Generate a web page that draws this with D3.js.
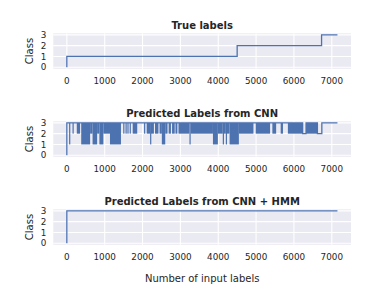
<!DOCTYPE html>
<html lang="en">
<head>
<meta charset="UTF-8" />
<title>Labels</title>
<style>
body { margin: 0; background: #fff; }
svg text { font-family: "DejaVu Sans", sans-serif; fill: #262626; }
</style>
</head>
<body>
<svg id="chart" width="390" height="293"></svg>
<script src="https://cdn.jsdelivr.net/npm/d3@7"></script>
<script>
// data
const xTicks = [0, 1000, 2000, 3000, 4000, 5000, 6000, 7000];
const yTicks = [0, 1, 2, 3];
const titles = ["True labels", "Predicted Labels from CNN", "Predicted Labels from CNN + HMM"];

// runs: [from, to, value]
const trueRuns = [[0, 0, 0], [0, 4500, 1], [4500, 6730, 2], [6730, 7150, 3]];
const hmmRuns = [[0, 0, 0], [0, 7150, 3]];

// runs: [from, to, low, high]; low < high means it flips fast between the two
const cnnRuns = [
  [0, 0, 0, 0], [0, 60, 3, 3], [60, 72, 1, 3], [72, 150, 3, 3], [150, 160, 2, 3],
  [160, 263, 3, 3], [263, 350, 2, 3], [350, 380, 3, 3], [380, 615, 1, 3],
  [615, 680, 2, 3], [680, 800, 1, 3], [800, 860, 2, 3], [860, 965, 1, 3],
  [965, 1140, 2, 3], [1140, 1430, 1, 3], [1430, 1490, 3, 3], [1490, 1510, 2, 3],
  [1510, 1550, 3, 3], [1550, 1570, 2, 3], [1570, 1600, 3, 3], [1600, 1620, 2, 3],
  [1620, 1660, 3, 3], [1660, 1680, 2, 3], [1680, 1740, 3, 3], [1740, 1860, 2, 3],
  [1860, 2040, 3, 3], [2040, 2070, 2, 3], [2070, 2110, 3, 3], [2110, 2200, 2, 3],
  [2200, 2220, 1, 3], [2220, 2300, 2, 3], [2300, 2330, 3, 3], [2330, 2420, 2, 3],
  [2420, 2450, 3, 3], [2450, 2510, 2, 3], [2510, 2600, 1, 3], [2600, 2660, 2, 3],
  [2660, 2690, 3, 3], [2690, 2750, 2, 3], [2750, 2780, 3, 3], [2780, 2850, 2, 3],
  [2850, 2870, 3, 3], [2870, 2920, 2, 3], [2920, 2950, 3, 3], [2950, 3240, 2, 3],
  [3240, 3270, 1, 3], [3270, 3860, 2, 3], [3860, 3990, 1, 3], [3990, 4120, 2, 3],
  [4120, 4140, 1, 3], [4140, 4200, 2, 3], [4200, 4220, 1, 3], [4220, 4300, 2, 3],
  [4300, 4545, 1, 3], [4545, 4930, 2, 3], [4930, 4990, 3, 3], [4990, 5370, 2, 3],
  [5370, 5430, 3, 3], [5430, 5530, 2, 3], [5530, 5650, 3, 3], [5650, 5710, 2, 3],
  [5710, 5840, 3, 3], [5840, 6230, 2, 3], [6230, 6320, 2, 2], [6320, 6620, 2, 3],
  [6620, 6737, 2, 2], [6737, 7150, 3, 3]
];

const blue = "#4c72b0";
const left = 53.3, right = 351;
const tops = [33.3, 121.3, 209.3];
const h = 35.5;

const svg = d3.select("#chart");
const x = d3.scaleLinear().domain([-357.5, 7507.5]).range([left, right]);

function panel(i, runs) {
  const top = tops[i];
  const y = d3.scaleLinear().domain([-0.15, 3.15]).range([top + h, top]);
  const g = svg.append("g");

  g.append("rect").attr("x", left).attr("y", top).attr("width", right - left).attr("height", h).attr("fill", "#eaeaf2");

  g.selectAll(".gx").data(xTicks).join("line")
    .attr("x1", d => x(d)).attr("x2", d => x(d)).attr("y1", top).attr("y2", top + h)
    .attr("stroke", "#fff").attr("stroke-width", 1.1);
  g.selectAll(".gy").data(yTicks).join("line")
    .attr("x1", left).attr("x2", right).attr("y1", d => y(d)).attr("y2", d => y(d))
    .attr("stroke", "#fff").attr("stroke-width", 1.1);

  g.selectAll(".tx").data(xTicks).join("text")
    .attr("x", d => x(d)).attr("y", top + h + 15.6).attr("text-anchor", "middle")
    .attr("font-size", 8.8).text(d => d);
  g.selectAll(".ty").data(yTicks).join("text")
    .attr("x", left - 7).attr("y", d => y(d)).attr("dy", "0.35em").attr("text-anchor", "end")
    .attr("font-size", 8.8).text(d => d);

  g.append("text").attr("transform", `translate(33,${top + h / 2}) rotate(-90)`)
    .attr("text-anchor", "middle").attr("font-size", 10).text("Class");
  g.append("text").attr("x", (left + right) / 2).attr("y", top - 4)
    .attr("text-anchor", "middle").attr("font-size", 10).attr("font-weight", "bold").text(titles[i]);

  // bands where the label flips fast
  g.selectAll(".band").data(runs.filter(r => r.length === 4 && r[2] < r[3])).join("rect")
    .attr("x", d => x(d[0]))
    .attr("width", d => Math.max(1.2, x(d[1]) - x(d[0])))
    .attr("y", d => y(d[3]))
    .attr("height", d => y(d[2]) - y(d[3]))
    .attr("fill", blue);

  const pts = [];
  runs.forEach(r => {
    const v = r.length === 4 ? r[3] : r[2];
    pts.push([r[0], v], [r[1], v]);
  });
  g.append("path").datum(pts)
    .attr("d", d3.line().x(d => x(d[0])).y(d => y(d[1])))
    .attr("fill", "none").attr("stroke", blue).attr("stroke-width", 1.3);
}

panel(0, trueRuns);
panel(1, cnnRuns);
panel(2, hmmRuns);

svg.append("text").attr("x", (left + right) / 2).attr("y", 281.5)
  .attr("text-anchor", "middle").attr("font-size", 10).text("Number of input labels");
</script>
</body>
</html>
